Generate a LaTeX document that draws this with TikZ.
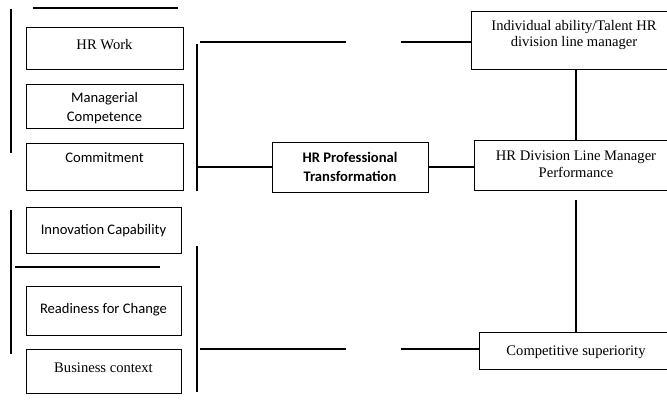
\documentclass[tikz,border=0pt]{standalone}
\usepackage{fontspec}
\setmainfont{Liberation Serif}
\newfontfamily\calib{Carlito}
\newfontfamily\timesf{Liberation Serif}
\begin{document}
\begin{tikzpicture}[x=1pt,y=-1pt,
  box/.style={draw, line width=0.8pt, inner sep=0pt},
  conn/.style={line width=2pt},
  tx/.style={font=\timesf\fontsize{14.6}{16.5}\selectfont, align=center, inner sep=0pt},
  cx/.style={font=\calib\fontsize{14.6}{18.5}\selectfont, align=center, inner sep=0pt}]
\useasboundingbox (0,0) rectangle (667,405);
\clip (0,0) rectangle (667,405);

% left boxes (upper group)
\node[box, minimum width=157pt, minimum height=42pt] (hrw) at (104.5,48) {};
\node[tx] (thrw) at (104.5,45) {HR Work};
\node[box, minimum width=157pt, minimum height=44pt] (mc) at (104.5,106) {};
\node[cx] (tmc) at (104.5,108) {Managerial\\Competence};
\node[box, minimum width=157pt, minimum height=47pt] (com) at (104.5,166.5) {};
\node[cx] (tcom) at (104.5,158) {Commitment};

% left boxes (lower group)
\node[box, minimum width=155pt, minimum height=46pt] (inn) at (103.5,230) {};
\node[cx] (tinn) at (103.5,231) {Innovation Capability};
\node[box, minimum width=155pt, minimum height=49pt] (rfc) at (103.5,310.5) {};
\node[cx] (trfc) at (103.5,310) {Readiness for Change};
\node[box, minimum width=155pt, minimum height=44pt] (bc) at (103.5,371) {};
\node[tx] (tbc) at (103.5,368) {Business context};

% centre box
\node[box, minimum width=156pt, minimum height=50pt] (hrpt) at (350,167) {};
\node[cx, font=\calib\bfseries\fontsize{14.6}{19}\selectfont] (thrpt) at (350,167) {HR Professional\\Transformation};

% right boxes
\node[box, minimum width=219pt, minimum height=58pt] (ind) at (580.5,40) {};
\node[tx] (tind) at (574,35) {Individual ability/Talent HR\\division line manager};
\node[box, minimum width=216pt, minimum height=50pt] (dlm) at (582,165) {};
\node[tx] (tdlm) at (576,164) {HR Division Line Manager\\Performance};
\node[box, minimum width=211pt, minimum height=37pt] (cs) at (584.5,350.5) {};
\node[tx] (tcs) at (576,352) {Competitive superiority};

% free line ends
\coordinate (a1) at (33,8);   \coordinate (a2) at (178,8);
\coordinate (b1) at (11,9);   \coordinate (b2) at (11,153);
\coordinate (c1) at (197,44); \coordinate (c2) at (197,191);
\coordinate (d1) at (200,42); \coordinate (d2) at (346,42);
\coordinate (e1) at (401,42);
\coordinate (f1) at (197,167);
\coordinate (v) at (576,0);
\coordinate (g1) at (576,200);
\coordinate (h1) at (11,210); \coordinate (h2) at (11,354);
\coordinate (i1) at (15,267); \coordinate (i2) at (160,267);
\coordinate (j1) at (197,246); \coordinate (j2) at (197,392);
\coordinate (k1) at (200,349); \coordinate (k2) at (346,349);
\coordinate (l1) at (401,349);

\draw[conn] (a1) -- (a2);
\draw[conn] (b1) -- (b2);
\draw[conn] (c1) -- (c2);
\draw[conn] (d1) -- (d2);
\draw[conn] (e1) -- (e1 -| ind.west);
\draw[conn] (f1) -- (hrpt.west);
\draw[conn] (hrpt.east) -- (hrpt.east -| dlm.west);
\draw[conn] (v |- ind.south) -- (v |- dlm.north);
\draw[conn] (g1) -- (v |- cs.north);
\draw[conn] (h1) -- (h2);
\draw[conn] (i1) -- (i2);
\draw[conn] (j1) -- (j2);
\draw[conn] (k1) -- (k2);
\draw[conn] (l1) -- (l1 -| cs.west);
\end{tikzpicture}
\end{document}
